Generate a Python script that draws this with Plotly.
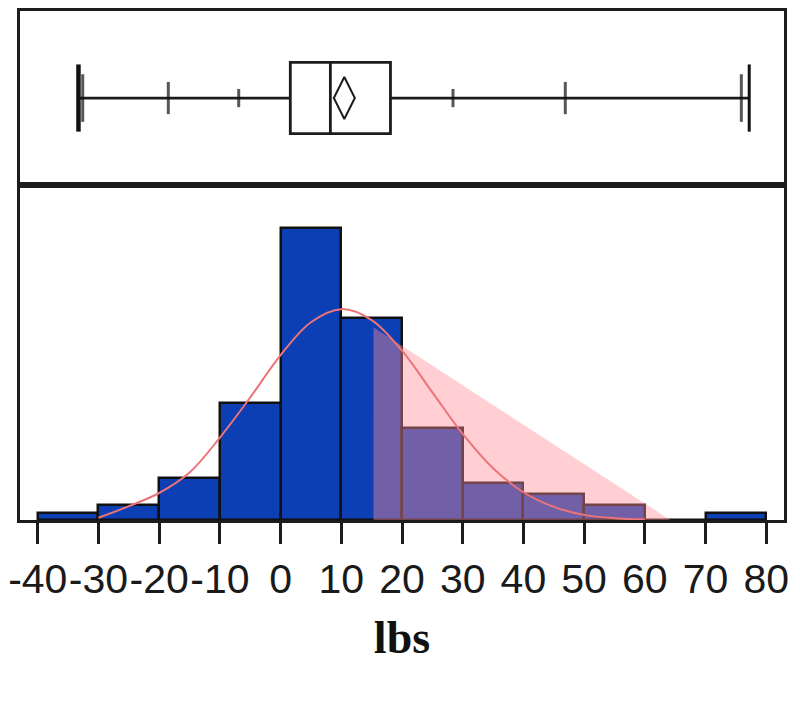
import plotly.graph_objects as go

# histogram bins (left edge, width 10) and bar heights
bin_left = [-40, -30, -20, -10, 0, 10, 20, 30, 40, 50, 60, 70]
counts = [1, 2, 5.8, 16, 40, 27.7, 12.6, 5.1, 3.6, 2.05, 0, 1]

# fitted curve
curve_x = [-30, -25, -20, -15, -10, -5, 0, 5, 10, 15, 20, 25, 30, 35, 40, 45, 50, 55, 60]
curve_y = [0.3, 1.9, 3.7, 6.5, 11.3, 16.8, 22.6, 27.1, 28.9, 27.4, 23.2, 17.5, 11.8, 7.1, 3.8, 1.8, 0.7, 0.25, 0.1]

# shaded triangle
tri_x = [15.3, 15.3, 64.2]
tri_y = [0, 26.4, 0]

# box plot summary
q1, median, q3, mean = 1.6, 8.2, 18.1, 10.5
data_min, data_max = -33.3, 77.2
quant_x = [-32.6, -18.5, -6.9, 28.4, 46.9, 75.9]
quant_size = [34, 23, 13, 13, 23, 34]

tick_vals = [-40, -30, -20, -10, 0, 10, 20, 30, 40, 50, 60, 70, 80]
tick_text = ["-40", "-30", "-20", "-10", "0", "10", "20", "30", "40", "50", "60", "70", "80"]

LINE = "#1c1c1c"
fig = go.Figure()

fig.add_trace(go.Bar(x=bin_left, y=counts, width=10, offset=0,
                     marker=dict(color="#0c3eb4", line=dict(color="#111111", width=2.5)),
                     xaxis="x", yaxis="y"))
fig.add_trace(go.Scatter(x=tri_x, y=tri_y, fill="toself", mode="none",
                         fillcolor="rgba(255,140,150,0.42)", xaxis="x", yaxis="y"))
fig.add_trace(go.Scatter(x=curve_x, y=curve_y, mode="lines",
                         line=dict(color="#ec7478", width=2, shape="spline"),
                         xaxis="x", yaxis="y"))

# box panel
fig.add_trace(go.Box(y=[0], q1=[q1], median=[median], q3=[q3],
                     lowerfence=[data_min], upperfence=[data_max],
                     orientation="h", width=0.82, whiskerwidth=0, boxpoints=False,
                     fillcolor="white", line=dict(color=LINE, width=2.8),
                     xaxis="x2", yaxis="y2"))
fig.add_trace(go.Scatter(x=quant_x, y=[0] * len(quant_x), mode="markers",
                         marker=dict(symbol="line-ns", size=quant_size,
                                     line=dict(color="#111111", width=3)),
                         xaxis="x2", yaxis="y2"))
fig.add_trace(go.Scatter(x=[data_min, data_max], y=[0, 0], mode="markers",
                         marker=dict(symbol="line-ns", size=48,
                                     line=dict(color="#111111", width=[4.5, 3])),
                         xaxis="x2", yaxis="y2"))
fig.add_trace(go.Scatter(x=[mean], y=[0], mode="markers",
                         marker=dict(symbol="diamond-tall-open", size=30,
                                     color=LINE, line=dict(color=LINE, width=2)),
                         xaxis="x2", yaxis="y2"))

# page body adds an 8px offset, so the figure is 792x695
fig.update_layout(
    width=792, height=695,
    margin=dict(l=12, r=16, t=3, b=183),
    paper_bgcolor="white", plot_bgcolor="white",
    showlegend=False, bargap=0,
    xaxis=dict(range=[-42.93, 82.93], tickvals=tick_vals, ticktext=tick_text,
               tickangle=0, ticks="outside", ticklen=21, tickwidth=2.5, tickcolor=LINE,
               showline=True, linecolor=LINE, linewidth=3, mirror=True,
               showgrid=False, zeroline=False, automargin=False,
               ticklabeloverflow="allow",
               tickfont=dict(family="Liberation Sans, Arial", size=41, color="#1a1a1a"),
               title=dict(text="<b>lbs</b>", standoff=20,
                          font=dict(family="Liberation Serif, Times New Roman, serif", size=46, color="#111111"))),
    yaxis=dict(domain=[0, 0.658], range=[0, 45.9], showticklabels=False, ticks="",
               showline=True, linecolor=LINE, linewidth=3, mirror=True,
               showgrid=False, zeroline=False, automargin=False),
    xaxis2=dict(matches="x", anchor="y2", showticklabels=False, ticks="",
                showline=True, linecolor=LINE, linewidth=3, mirror=True,
                showgrid=False, zeroline=False, automargin=False),
    yaxis2=dict(domain=[0.658, 1], range=[-1, 1], showticklabels=False, ticks="",
                showline=True, linecolor=LINE, linewidth=3, mirror=True,
                showgrid=False, zeroline=False, automargin=False),
)

fig.write_html("out.html")
